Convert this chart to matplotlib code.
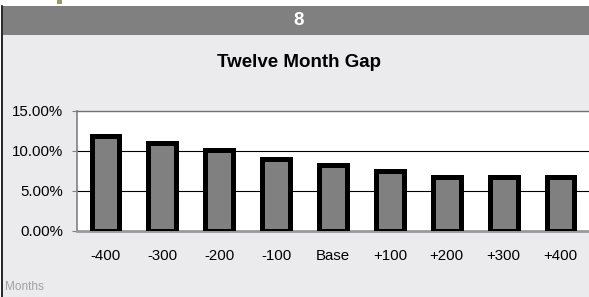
import matplotlib
matplotlib.use('Agg')
import matplotlib.pyplot as plt
from matplotlib.patches import Rectangle
from matplotlib.lines import Line2D

plt.rcParams['font.family'] = ['Liberation Sans', 'DejaVu Sans']

categories = ['-400', '-300', '-200', '-100', 'Base', '+100', '+200', '+300', '+400']
gap_pct = [11.9, 11.05, 10.15, 9.0, 8.2, 7.5, 6.8, 6.75, 6.7]
y_ticks = [0, 5, 10, 15]
y_labels = ['0.00%', '5.00%', '10.00%', '15.00%']

W, H = 589, 297
fig = plt.figure(figsize=(W / 100, H / 100), dpi=100)
fig.patch.set_facecolor('white')

# page background, header band and left rule
fig.patches.append(Rectangle((2.5 / W, 0), 1, (H - 35) / H, transform=fig.transFigure,
                             facecolor='#EBEBED', edgecolor='none', zorder=-5))
fig.patches.append(Rectangle((2.5 / W, (H - 35) / H), 1, 29 / H, transform=fig.transFigure,
                             facecolor='#808080', edgecolor='none', zorder=-5))
fig.patches.append(Rectangle((57 / W, (H - 4) / H), 5 / W, 4 / H, transform=fig.transFigure,
                             facecolor='#9A9A6A', edgecolor='none', zorder=-5))
fig.lines.append(Line2D([2 / W, 2 / W], [0, (H - 6) / H], transform=fig.transFigure,
                        color='black', linewidth=1.2, zorder=-4))

fig.text(299 / W, (H - 20.5) / H, '8', color='white', fontsize=13.5, fontweight='bold',
         ha='center', va='center')
fig.text(299 / W, (H - 62) / H, 'Twelve Month Gap', color='black', fontsize=13.5,
         fontweight='bold', ha='center', va='center')
fig.text(5 / W, (H - 287) / H, 'Months', color='#A0A0A0', fontsize=8.5,
         ha='left', va='center')

ax = fig.add_axes([77 / W, (H - 231) / H, (W - 77) / W, 120 / H])
ax.set_zorder(2)
ax.set_facecolor('white')

x = range(len(categories))
ax.bar(x, gap_pct, width=0.49, color='#808080', edgecolor='black', linewidth=3.6, zorder=3)

ax.set_xlim(-0.5, len(categories) - 0.5)
ax.set_ylim(0, 15)
ax.set_yticks(y_ticks)
ax.set_yticklabels(y_labels)
ax.set_xticks(list(x))
ax.set_xticklabels(categories)

for v in [5, 10]:
    ax.axhline(v, color='black', linewidth=0.8, zorder=1)

ax.spines['right'].set_visible(False)
ax.spines['top'].set_color('#707070')
ax.spines['top'].set_linewidth(1.0)
ax.spines['left'].set_color('#808080')
ax.spines['left'].set_linewidth(1.2)
ax.spines['bottom'].set_color('#999999')
ax.spines['bottom'].set_linewidth(2.0)

ax.tick_params(axis='y', length=3.6, color='#808080', pad=6.5, labelsize=10.8, labelcolor='black')
ax.tick_params(axis='x', length=0, pad=13, labelsize=10.8, labelcolor='black')

fig.savefig('out.png', dpi=100)
